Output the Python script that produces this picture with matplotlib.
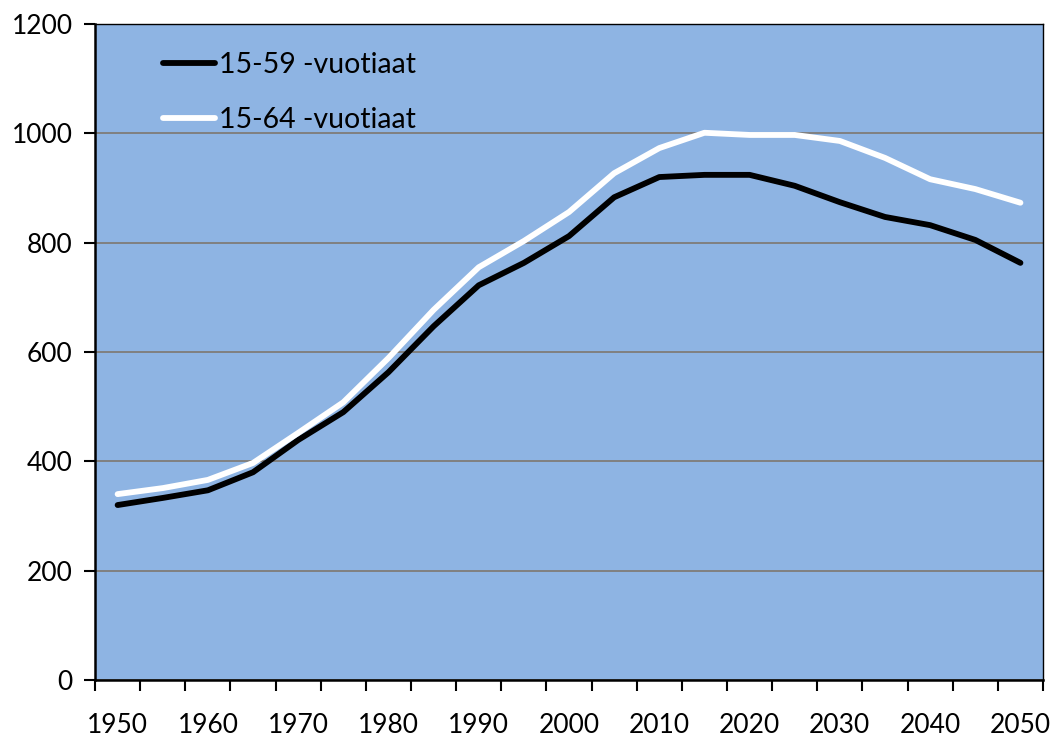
import matplotlib.pyplot as plt

plt.rcParams['font.family'] = ['Lato', 'DejaVu Sans']

years = [1950, 1955, 1960, 1965, 1970, 1975, 1980, 1985, 1990, 1995, 2000,
         2005, 2010, 2015, 2020, 2025, 2030, 2035, 2040, 2045, 2050]
age_15_59 = [320, 333, 347, 380, 439, 490, 563, 647, 722, 763, 812,
             883, 920, 924, 924, 904, 874, 847, 832, 805, 763]
age_15_64 = [340, 351, 366, 397, 452, 508, 589, 677, 755, 803, 856,
             927, 973, 1001, 997, 997, 986, 955, 916, 898, 873]
labels = ['15-59 -vuotiaat', '15-64 -vuotiaat']

fig = plt.figure(figsize=(10.56, 7.4), dpi=100)
ax = fig.add_axes([0.09, 0.0811, 0.8977, 0.8865])
ax.set_facecolor('#8EB4E3')

x = list(range(len(years)))
ax.plot(x, age_15_59, color='black', lw=4.2, label=labels[0], solid_capstyle='round')
ax.plot(x, age_15_64, color='white', lw=4.2, label=labels[1], solid_capstyle='round')

ax.set_xlim(-0.5, len(years) - 0.5)
ax.set_ylim(0, 1200)
ax.set_yticks(range(0, 1201, 200))
ax.yaxis.grid(True, color='#808080', lw=1.4)
ax.set_axisbelow(True)

# category axis: tick marks on boundaries, labels on every other category
ax.set_xticks([i - 0.5 for i in range(len(years) + 1)], minor=True)
ax.set_xticks(x[::2])
ax.set_xticklabels([str(y) for y in years[::2]])
ax.tick_params(axis='x', which='major', length=0, pad=24, labelsize=19)
ax.tick_params(axis='x', which='minor', length=8, width=1.5, direction='out')
ax.tick_params(axis='y', length=8, width=1.5, pad=8, labelsize=19)

for s in ['left', 'bottom']:
    ax.spines[s].set_linewidth(1.8)
for s in ['top', 'right']:
    ax.spines[s].set_linewidth(1.0)

ax.legend(loc='upper left', bbox_to_anchor=(0.045, 0.997), frameon=False,
          fontsize=20.5, handlelength=1.8, handletextpad=0.15, labelspacing=1.05)

plt.savefig('out.png')
